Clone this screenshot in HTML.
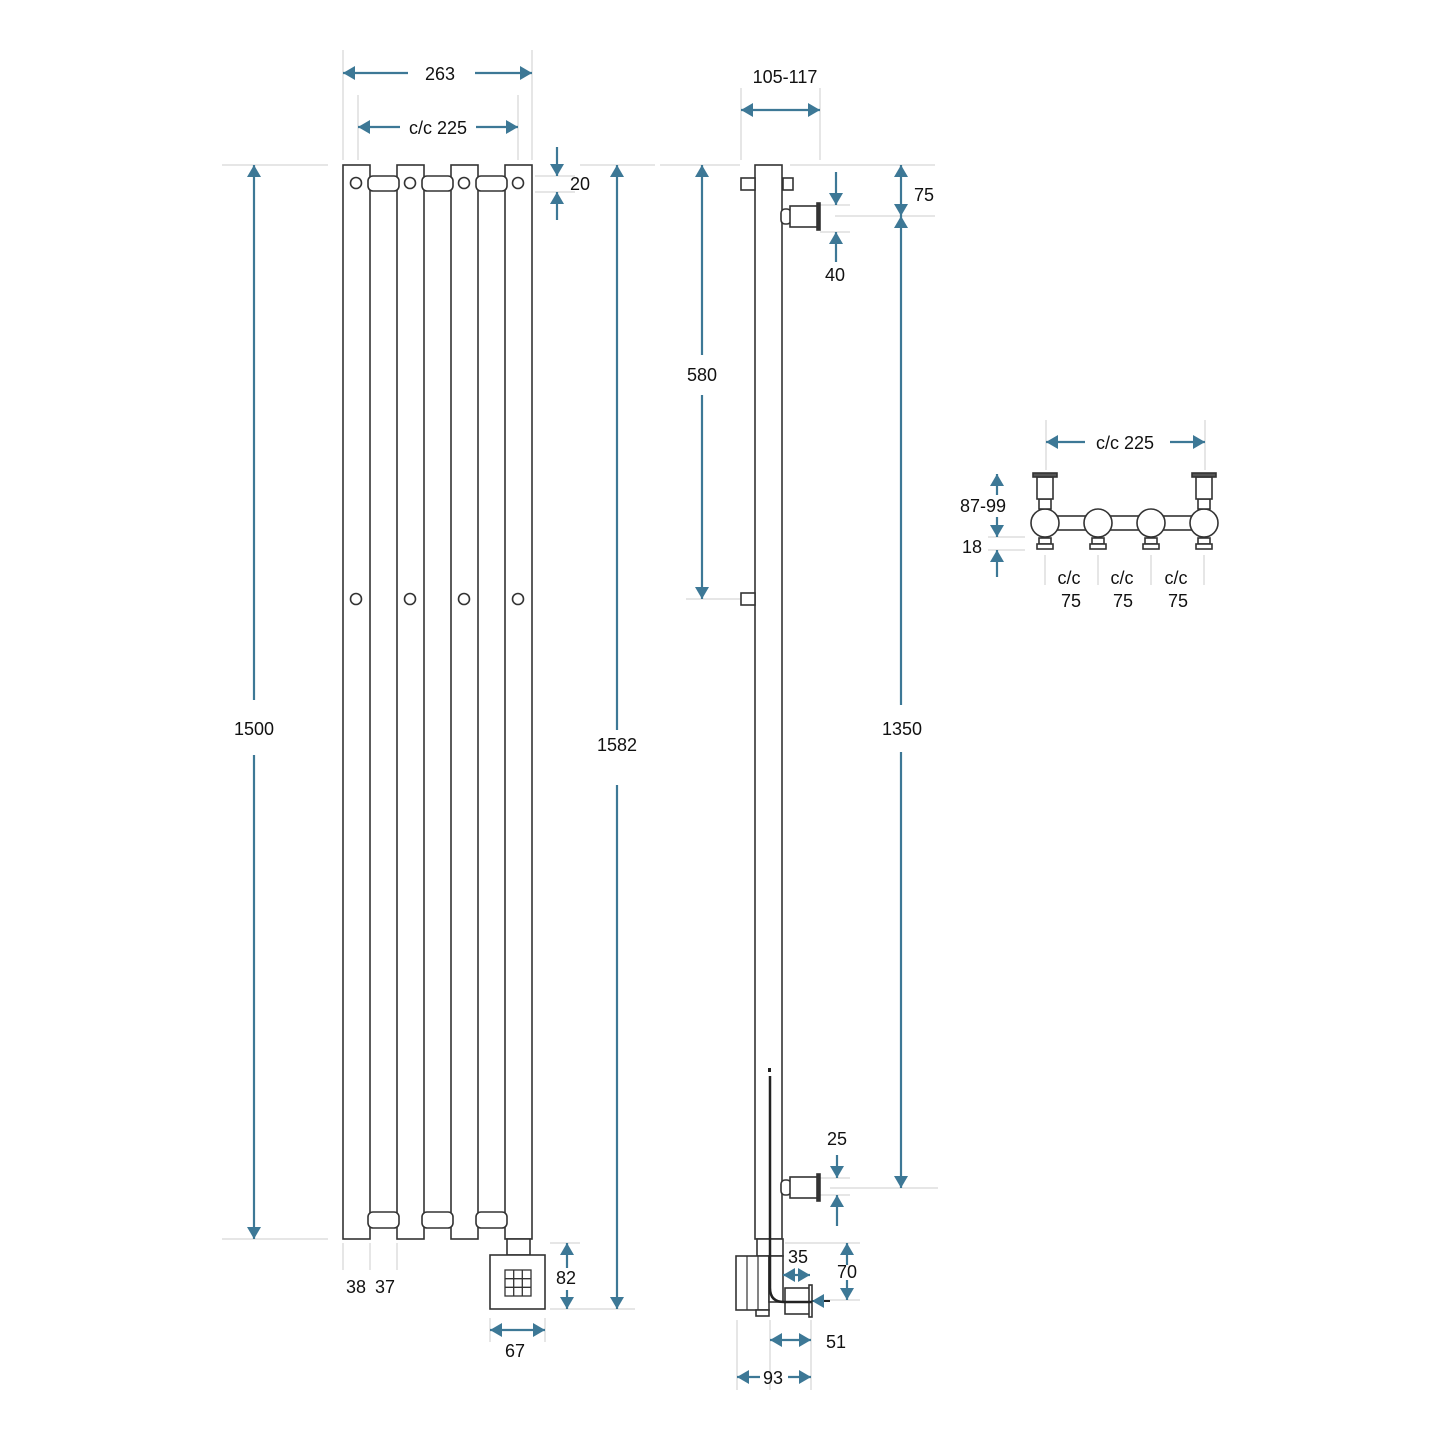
<!DOCTYPE html>
<html><head><style>body{margin:0;background:#fff}svg{display:block}</style></head><body>
<svg width="1440" height="1440" viewBox="0 0 1440 1440" xmlns="http://www.w3.org/2000/svg" font-family="Liberation Sans, sans-serif" font-size="18">
<defs>
<marker id="a" viewBox="0 0 12 14" refX="12" refY="7" markerWidth="12" markerHeight="14" markerUnits="userSpaceOnUse" orient="auto"><path d="M0,0L12,7L0,14z" fill="#3d7896"/></marker>
</defs>
<g stroke="#ccc" stroke-width="1">
<path d="M343 50V160M532 50V160M358 95V160M518 95V160M222 165H328M222 1239H328M580 165H655M550 1309H635M535 176H575M535 192H575M343 1243V1270M370 1243V1270M397 1243V1270M490 1318V1342M545 1318V1342M550 1243H580"/>
<path d="M741 88V160M820 88V160M660 165H740M686 599H740M790 165H935M835 216H935M820 205H850M820 232H850M830 1188H938M820 1178H850M820 1195H850M785 1243H860M815 1300H860M737 1320V1390M770 1320V1390M811 1320V1390"/>
<path d="M1046 420V470M1205 420V470M988 537H1025M988 550H1025M1045 555V585M1098 555V585M1151 555V585M1204 555V585"/>
</g>
<g fill="#fff" stroke="#333" stroke-width="1.6">
<rect x="343" y="165" width="27" height="1074"/><rect x="397" y="165" width="27" height="1074"/><rect x="451" y="165" width="27" height="1074"/><rect x="505" y="165" width="27" height="1074"/>
<rect x="368" y="176" width="31" height="15" rx="5"/><rect x="422" y="176" width="31" height="15" rx="5"/><rect x="476" y="176" width="31" height="15" rx="5"/>
<rect x="368" y="1212" width="31" height="16" rx="5"/><rect x="422" y="1212" width="31" height="16" rx="5"/><rect x="476" y="1212" width="31" height="16" rx="5"/>
<circle cx="356" cy="183" r="5.5"/><circle cx="410" cy="183" r="5.5"/><circle cx="464" cy="183" r="5.5"/><circle cx="518" cy="183" r="5.5"/>
<circle cx="356" cy="599" r="5.5"/><circle cx="410" cy="599" r="5.5"/><circle cx="464" cy="599" r="5.5"/><circle cx="518" cy="599" r="5.5"/>
<rect x="507" y="1239" width="23" height="16"/><rect x="490" y="1255" width="55" height="54"/>
<rect x="505" y="1270" width="26" height="26" stroke-width="1.3"/>
</g>
<path d="M513.7 1270V1296M522.3 1270V1296M505 1278.7H531M505 1287.3H531" stroke="#333" stroke-width="1.3"/>
<g fill="#fff" stroke="#333" stroke-width="1.6">
<rect x="755" y="165" width="27" height="1074"/>
<rect x="741" y="178" width="14" height="12"/><rect x="783" y="178" width="10" height="12"/>
<rect x="741" y="593" width="14" height="12"/>
<rect x="781" y="209" width="10" height="15" rx="4"/><rect x="790" y="206" width="28" height="21"/><rect x="817" y="203" width="3" height="27" fill="#333"/>
<rect x="781" y="1180" width="10" height="15" rx="4"/><rect x="790" y="1177" width="28" height="21"/><rect x="817" y="1174" width="3" height="27" fill="#333"/>
<rect x="757" y="1239" width="26" height="17"/>
<rect x="736" y="1256" width="33" height="54"/><rect x="756" y="1310" width="13" height="6"/>
<rect x="769" y="1256" width="14" height="46"/>
<rect x="785" y="1288" width="25" height="26"/><rect x="809" y="1285" width="3" height="32"/>
</g>
<path d="M747 1256V1310M758 1256V1310" stroke="#333" stroke-width="1.2"/>
<path d="M770 1076V1288Q770 1302 784 1302H812" stroke="#222" stroke-width="2.5" fill="none"/>
<rect x="768" y="1068" width="3" height="4" fill="#222"/>
<path d="M830 1301H812" stroke="#222" stroke-width="2" marker-end="url(#a)"/>
<g fill="#fff" stroke="#333" stroke-width="1.6">
<rect x="1045" y="516" width="159" height="14"/>
<rect x="1039" y="538" width="12" height="6"/><rect x="1037" y="544" width="16" height="5"/>
<rect x="1092" y="538" width="12" height="6"/><rect x="1090" y="544" width="16" height="5"/>
<rect x="1145" y="538" width="12" height="6"/><rect x="1143" y="544" width="16" height="5"/>
<rect x="1198" y="538" width="12" height="6"/><rect x="1196" y="544" width="16" height="5"/>
<circle cx="1045" cy="523" r="14"/><circle cx="1098" cy="523" r="14"/><circle cx="1151" cy="523" r="14"/><circle cx="1204" cy="523" r="14"/>
<rect x="1039" y="499" width="12" height="10"/><rect x="1037" y="477" width="16" height="22"/><rect x="1033" y="473" width="24" height="4" fill="#555"/>
<rect x="1198" y="499" width="12" height="10"/><rect x="1196" y="477" width="16" height="22"/><rect x="1192" y="473" width="24" height="4" fill="#555"/>
</g>
<g stroke="#3d7896" stroke-width="2.2" fill="none" marker-end="url(#a)">
<path d="M408 73H343"/><path d="M475 73H532"/>
<path d="M400 127H358"/><path d="M476 127H518"/>
<path d="M254 700V165"/><path d="M254 755V1239"/>
<path d="M617 730V165"/><path d="M617 785V1309"/>
<path d="M557 147V176"/><path d="M557 220V192"/>
<path d="M567 1268V1243"/><path d="M567 1290V1309"/>
<path d="M518 1330H490"/><path d="M518 1330H545"/>
<path d="M780 110H741"/><path d="M780 110H820"/>
<path d="M702 355V165"/><path d="M702 395V599"/>
<path d="M901 190V165"/><path d="M901 190V216"/>
<path d="M901 705V216"/><path d="M901 752V1188"/>
<path d="M836 172V205"/><path d="M836 262V232"/>
<path d="M837 1155V1178"/><path d="M837 1226V1195"/>
<path d="M847 1265V1243"/><path d="M847 1280V1300"/>
<path d="M796 1275H783"/><path d="M796 1275H810"/>
<path d="M790 1340H770"/><path d="M790 1340H811"/>
<path d="M760 1377H737"/><path d="M788 1377H811"/>
<path d="M1085 442H1046"/><path d="M1170 442H1205"/>
<path d="M997 495V474"/><path d="M997 517V537"/>
<path d="M997 577V550"/>
</g>
<g fill="#111" text-anchor="middle">
<text x="440" y="80">263</text><text x="438" y="134">c/c 225</text>
<text x="254" y="735">1500</text><text x="617" y="751">1582</text>
<text x="580" y="190">20</text><text x="356" y="1293">38</text><text x="385" y="1293">37</text>
<text x="566" y="1284">82</text><text x="515" y="1357">67</text>
<text x="785" y="83">105-117</text><text x="702" y="381">580</text>
<text x="924" y="201">75</text><text x="835" y="281">40</text><text x="902" y="735">1350</text>
<text x="837" y="1145">25</text><text x="798" y="1263">35</text><text x="847" y="1278">70</text>
<text x="836" y="1348">51</text><text x="773" y="1384">93</text>
<text x="1125" y="449">c/c 225</text><text x="983" y="512">87-99</text><text x="972" y="553">18</text>
<text x="1069" y="584">c/c</text><text x="1071" y="607">75</text>
<text x="1122" y="584">c/c</text><text x="1123" y="607">75</text>
<text x="1176" y="584">c/c</text><text x="1178" y="607">75</text>
</g>
</svg>
</body></html>
